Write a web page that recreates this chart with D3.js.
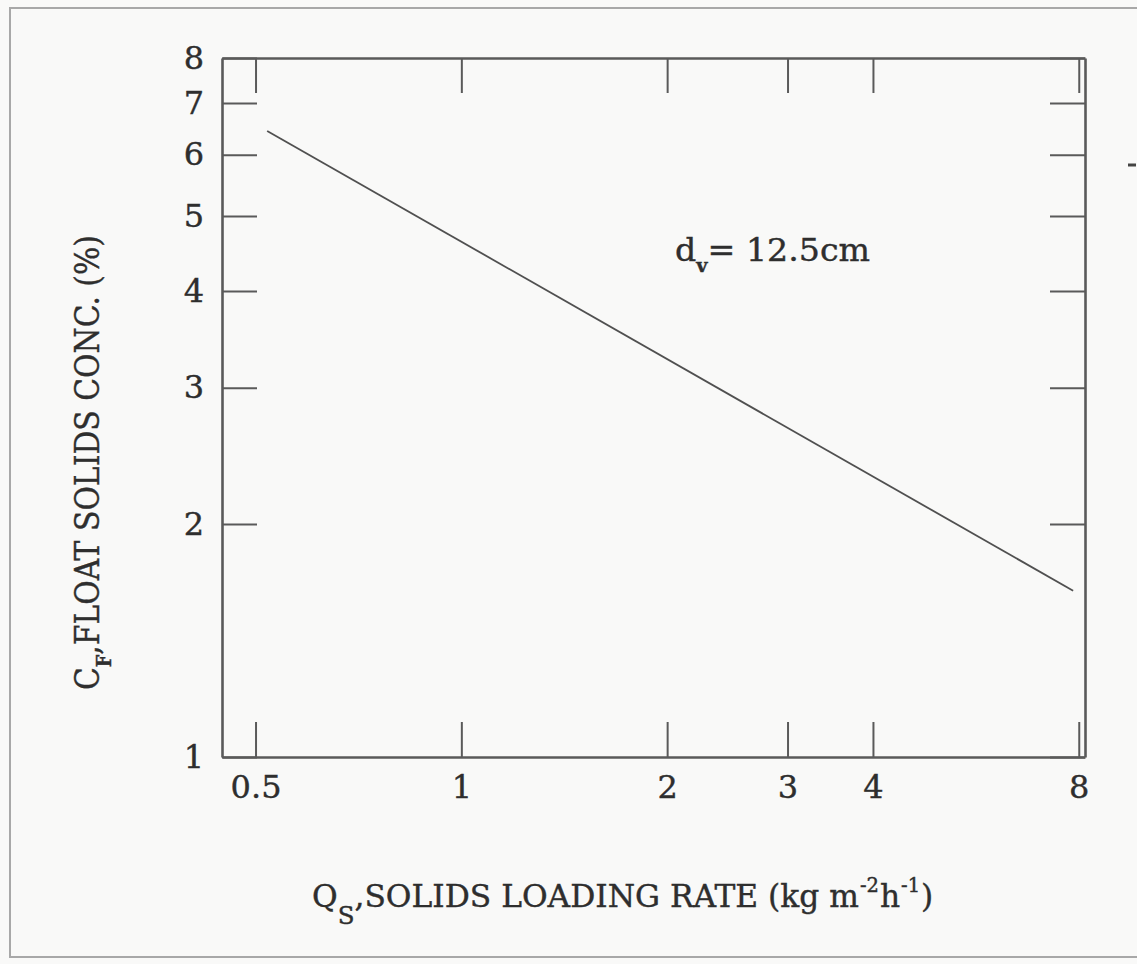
<!DOCTYPE html>
<html>
<head>
<meta charset="utf-8">
<script src="https://cdn.jsdelivr.net/npm/d3@7"></script>
<style>
  html, body { margin: 0; padding: 0; background: #f9f9f8; }
  svg { display: block; }
  text { font-family: "DejaVu Serif", "Liberation Serif", serif; fill: #2e2e2e; stroke: #2e2e2e; stroke-width: 0.4px; }
</style>
</head>
<body>
<svg id="chart" width="1137" height="964"></svg>
<script>
// ---- data ----
const qsValues = [0.52, 7.85];          // Qs, solids loading rate (kg m^-2 h^-1)
const cfValues = [6.44, 1.64];          // Cf, float solids concentration (%)
const xTickValues = [0.5, 1, 2, 3, 4, 8];
const yTickValues = [1, 2, 3, 4, 5, 6, 7, 8];
const xDomain = [0.4466, 8.17];
const yDomain = [1, 8];
const annotationText = "= 12.5cm";

// ---- layout ----
const W = 1137, H = 964;
const plot = { left: 222, top: 58, right: 1085, bottom: 757 };
const axisColor = "#5a5a5a";

const svg = d3.select("#chart");
svg.append("rect").attr("width", W).attr("height", H).attr("fill", "#f9f9f8");

// outer scan frame
svg.append("path")
  .attr("d", `M${W + 5},8 L10,8 L10,957 L${W + 5},957`)
  .attr("fill", "none").attr("stroke", "#a8a8a8").attr("stroke-width", 2);
svg.append("line").attr("x1", 1128).attr("x2", 1136).attr("y1", 165).attr("y2", 165)
  .attr("stroke", "#444").attr("stroke-width", 3);

const x = d3.scaleLog().domain(xDomain).range([plot.left, plot.right]);
const y = d3.scaleLog().domain(yDomain).range([plot.bottom, plot.top]);

function styleAxis(g) {
  g.select(".domain").attr("stroke", axisColor).attr("stroke-width", 2.6);
  g.selectAll(".tick line").attr("stroke", axisColor).attr("stroke-width", 2);
  g.selectAll(".tick text").attr("fill", "#2e2e2e")
    .style("font-family", "'DejaVu Serif', serif").style("font-size", "32px");
}

// bottom axis
svg.append("g").attr("transform", `translate(0,${plot.bottom})`)
  .call(d3.axisBottom(x).tickValues(xTickValues).tickSize(-35).tickSizeOuter(0)
    .tickPadding(18).tickFormat(d => String(d)))
  .call(styleAxis);
// top axis
svg.append("g").attr("transform", `translate(0,${plot.top})`)
  .call(d3.axisTop(x).tickValues(xTickValues).tickSize(-35).tickSizeOuter(0).tickFormat(""))
  .call(styleAxis);
// left axis
svg.append("g").attr("transform", `translate(${plot.left},0)`)
  .call(d3.axisLeft(y).tickValues(yTickValues).tickSize(-35).tickSizeOuter(0)
    .tickPadding(18).tickFormat(d => String(d)))
  .call(styleAxis);
// right axis
svg.append("g").attr("transform", `translate(${plot.right},0)`)
  .call(d3.axisRight(y).tickValues(yTickValues).tickSize(-35).tickSizeOuter(0).tickFormat(""))
  .call(styleAxis);

// data line
const pts = qsValues.map((q, i) => ({ q, c: cfValues[i] }));
svg.append("path").datum(pts)
  .attr("fill", "none").attr("stroke", "#505050").attr("stroke-width", 1.8)
  .attr("d", d3.line().x(d => x(d.q)).y(d => y(d.c)));

// annotation
const ann = svg.append("text").attr("x", 675).attr("y", 261)
  .style("font-size", "31px")
  .attr("textLength", 195).attr("lengthAdjust", "spacingAndGlyphs");
ann.append("tspan").text("d");
ann.append("tspan").attr("dy", 11).style("font-size", "18px").style("font-weight", "bold").text("v");
ann.append("tspan").attr("dy", -11).text(annotationText);

// x axis title (natural width, no compression)
const xt = svg.append("text").attr("x", 312).attr("y", 907)
  .style("font-size", "31.3px");
xt.append("tspan").text("Q");
xt.append("tspan").attr("dy", 17).style("font-size", "24.5px").text("S");
xt.append("tspan").attr("dy", -17).text(",SOLIDS LOADING RATE (kg m");
xt.append("tspan").attr("dy", -15).attr("dx", 1).style("font-size", "19.5px").text("-2");
xt.append("tspan").attr("dy", 15).attr("dx", 1).text("h");
xt.append("tspan").attr("dy", -15).attr("dx", 1).style("font-size", "19.5px").text("-1");
xt.append("tspan").attr("dy", 15).attr("dx", 1).text(")");

// y axis title
const yt = svg.append("text").attr("transform", "translate(99,690) rotate(-90)")
  .style("font-size", "34px")
  .attr("textLength", 455).attr("lengthAdjust", "spacingAndGlyphs");
yt.append("tspan").text("C");
yt.append("tspan").attr("dy", 12).style("font-size", "20px").style("font-weight", "bold").text("F");
yt.append("tspan").attr("dy", -12).text(",FLOAT SOLIDS CONC. (%)");
</script>
</body>
</html>
